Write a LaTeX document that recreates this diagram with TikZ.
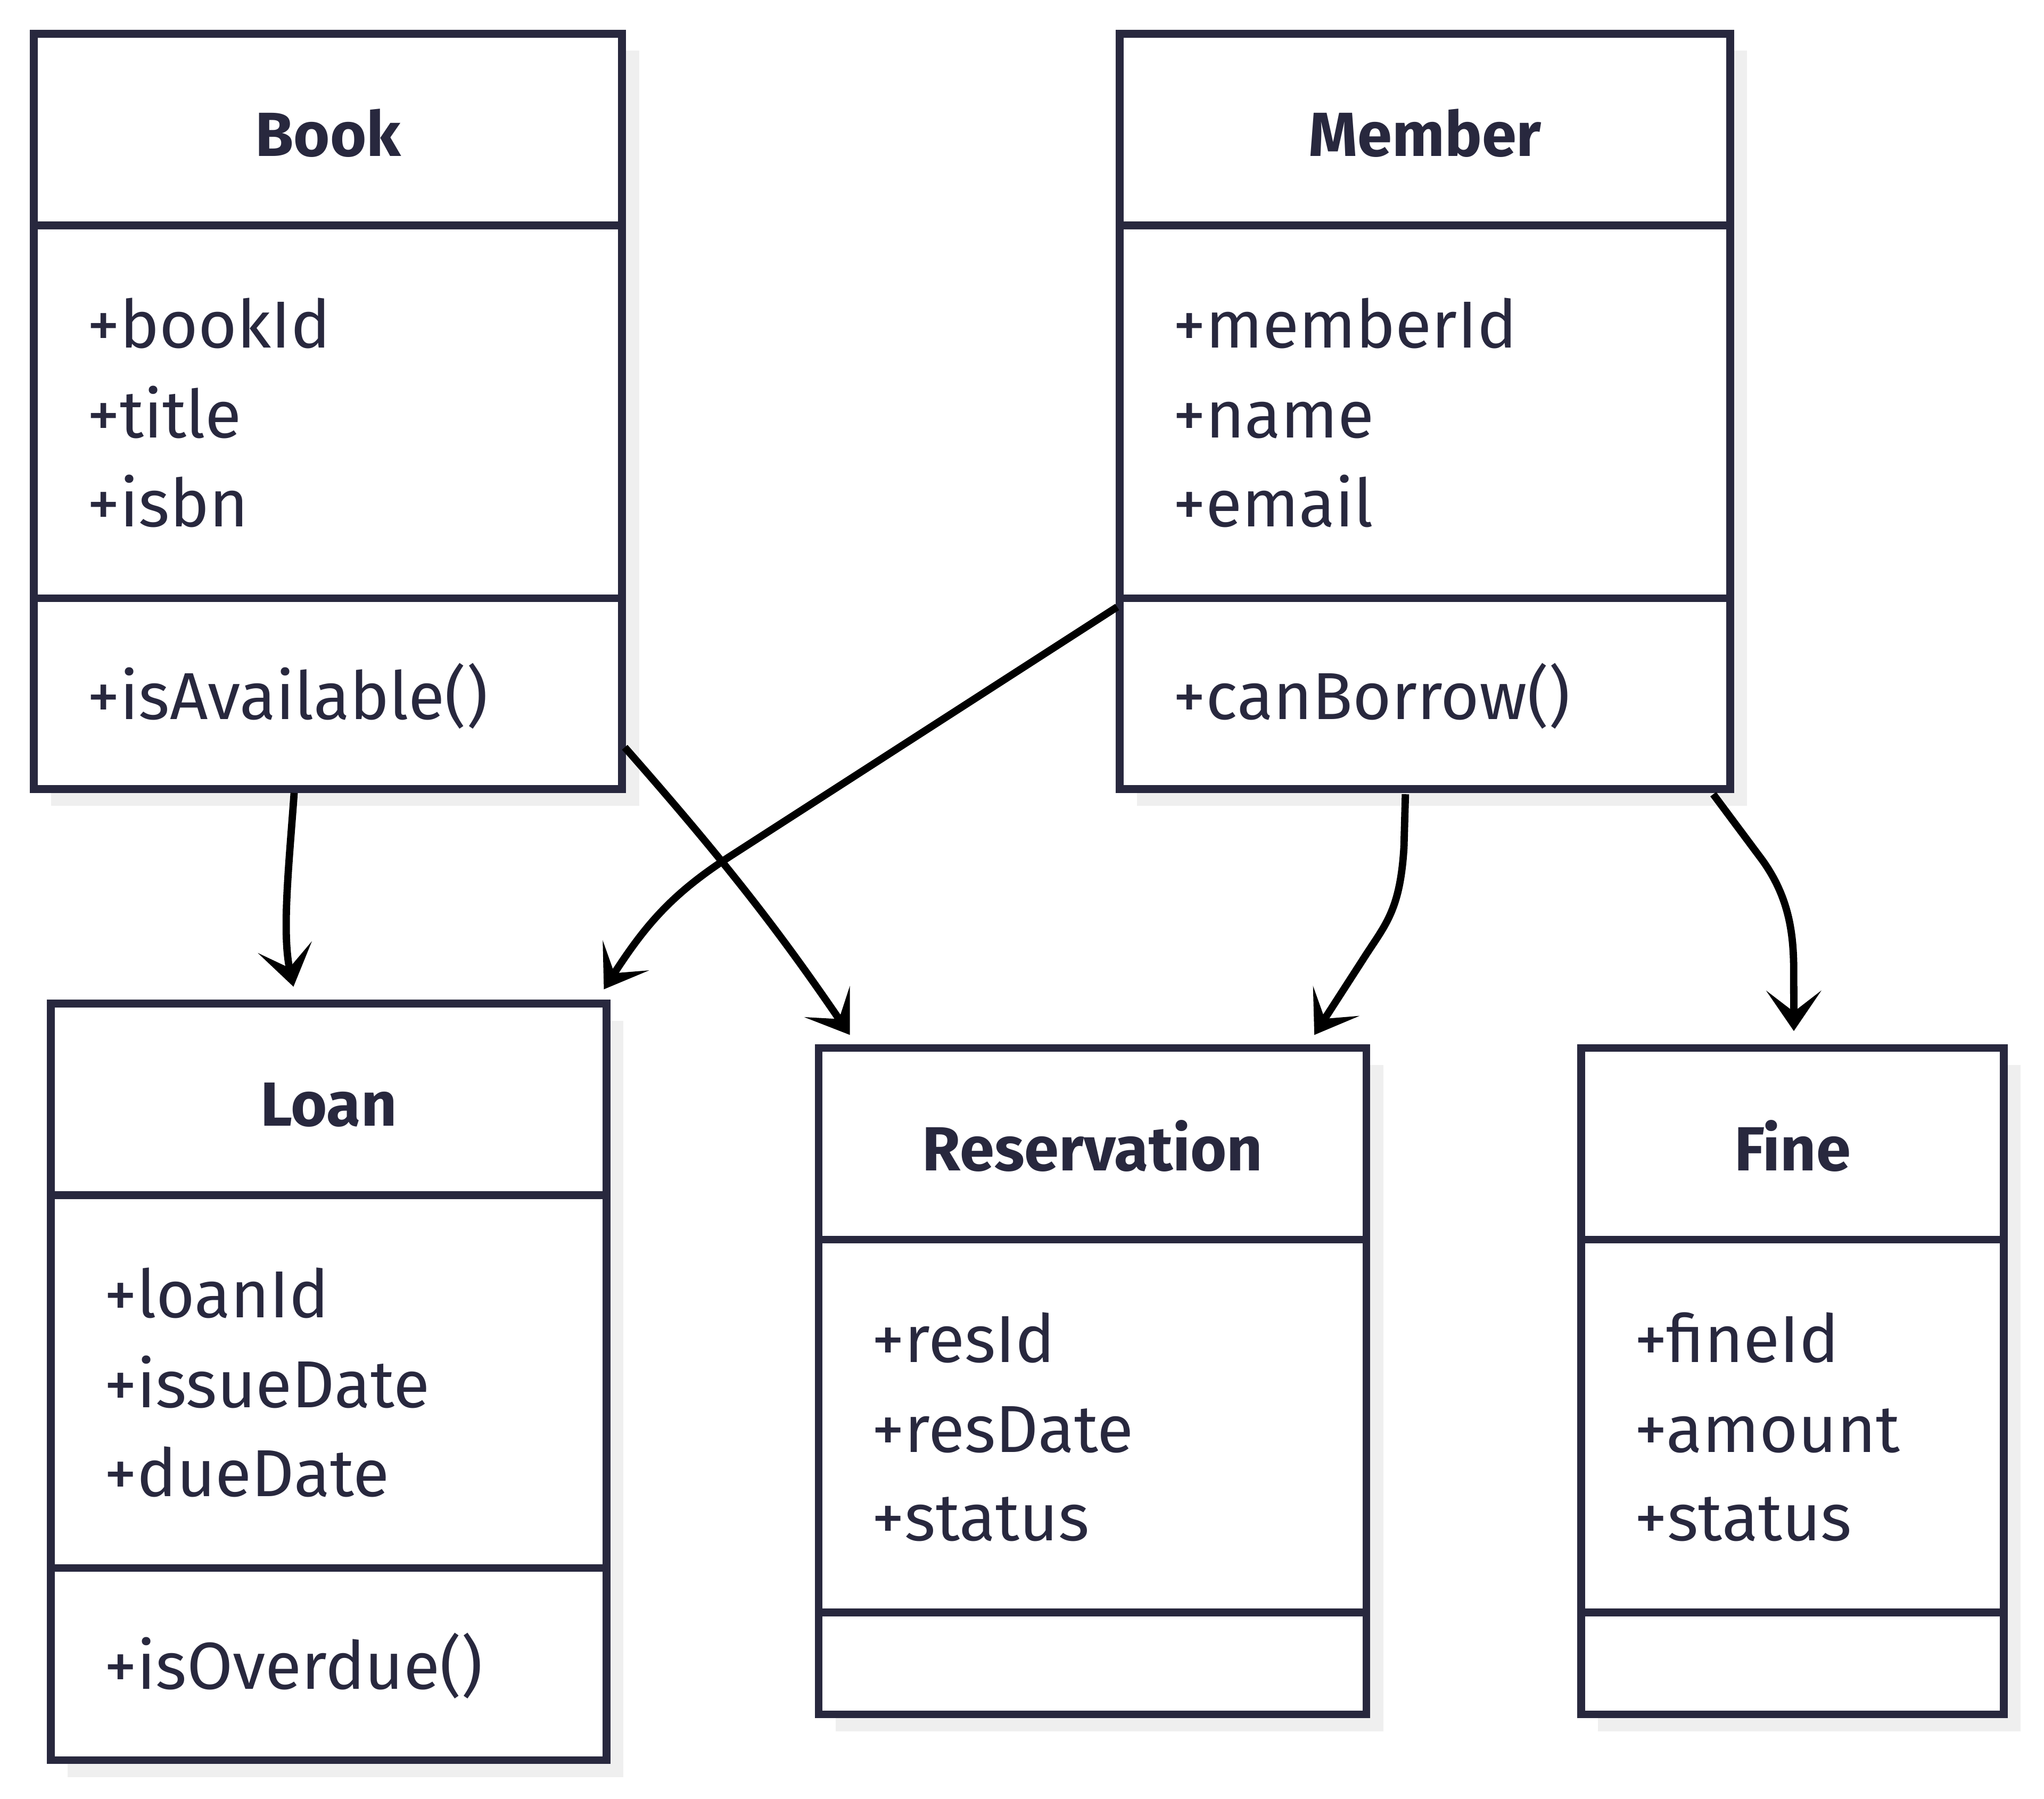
\documentclass[tikz,border=0pt]{standalone}
\usepackage{fontspec}
\setmainfont{Fira Sans}
\usepackage{tikz}
\usetikzlibrary{calc,arrows.meta,shadows}

\definecolor{umlink}{HTML}{28283E}
\definecolor{shadowgray}{HTML}{EFEFEF}

\begin{document}
\begin{tikzpicture}[x=0.01cm,y=-0.01cm,>=Stealth,inner sep=0pt,every node/.style={font=\fontsize{14.5}{19.6}\selectfont,text=umlink}]
  % Styles
  \tikzset{classbox/.style={draw=umlink,line width=1.7pt,fill=white,outer sep=0pt,anchor=north west,
             drop shadow={opacity=1,fill=shadowgray,shadow xshift=0.13cm,shadow yshift=-0.13cm}},
           divider/.style={draw=umlink,line width=1.7pt},
           classname/.style={anchor=base,font=\fontsize{13.6}{19.6}\selectfont\bfseries},
           members/.style={anchor=base west},
           link/.style={->,line width=1.6pt,black,>={Stealth[length=8.8pt,width=12pt,inset=4.6pt]}}}

  % Canvas (same proportions as the original)
  \useasboundingbox (0,0) rectangle (1568,1380);

  % Book
  \node[classbox,minimum width=4.51cm,minimum height=5.79cm] (book) at (26,26) {};
  \draw[divider] ($(book.north west)+(0,147)$) -- ($(book.north east)+(0,147)$);
  \draw[divider] ($(book.north west)+(0,433)$) -- ($(book.north east)+(0,433)$);
  \node[classname] (bookname) at ($(book.north)+(0,94)$) {Book};
  \node[members] (book-a1) at ($(book.north west)+(40,241)$) {+bookId};
  \node[members] (book-a2) at ($(book.north west)+(40,310)$) {+title};
  \node[members] (book-a3) at ($(book.north west)+(40,378)$) {+isbn};
  \node[members] (book-m1) at ($(book.north west)+(40,526)$) {+isAvailable()};

  % Member
  \node[classbox,minimum width=4.68cm,minimum height=5.79cm] (member) at (859,26) {};
  \draw[divider] ($(member.north west)+(0,147)$) -- ($(member.north east)+(0,147)$);
  \draw[divider] ($(member.north west)+(0,433)$) -- ($(member.north east)+(0,433)$);
  \node[classname] (membername) at ($(member.north)+(0,94)$) {Member};
  \node[members] (member-a1) at ($(member.north west)+(40,241)$) {+memberId};
  \node[members] (member-a2) at ($(member.north west)+(40,310)$) {+name};
  \node[members] (member-a3) at ($(member.north west)+(40,378)$) {+email};
  \node[members] (member-m1) at ($(member.north west)+(40,526)$) {+canBorrow()};

  % Loan
  \node[classbox,minimum width=4.26cm,minimum height=5.80cm] (loan) at (39,770) {};
  \draw[divider] ($(loan.north west)+(0,147)$) -- ($(loan.north east)+(0,147)$);
  \draw[divider] ($(loan.north west)+(0,433)$) -- ($(loan.north east)+(0,433)$);
  \node[classname] (loanname) at ($(loan.north)+(0,94)$) {Loan};
  \node[members] (loan-a1) at ($(loan.north west)+(40,241)$) {+loanId};
  \node[members] (loan-a2) at ($(loan.north west)+(40,310)$) {+issueDate};
  \node[members] (loan-a3) at ($(loan.north west)+(40,378)$) {+dueDate};
  \node[members] (loan-m1) at ($(loan.north west)+(40,526)$) {+isOverdue()};

  % Reservation (no operations)
  \node[classbox,minimum width=4.20cm,minimum height=5.11cm] (res) at (628,804) {};
  \draw[divider] ($(res.north west)+(0,147)$) -- ($(res.north east)+(0,147)$);
  \draw[divider] ($(res.north west)+(0,433)$) -- ($(res.north east)+(0,433)$);
  \node[classname] (resname) at ($(res.north)+(0,94)$) {Reservation};
  \node[members] (res-a1) at ($(res.north west)+(40,241)$) {+resId};
  \node[members] (res-a2) at ($(res.north west)+(40,310)$) {+resDate};
  \node[members] (res-a3) at ($(res.north west)+(40,378)$) {+status};

  % Fine (no operations)
  \node[classbox,minimum width=3.24cm,minimum height=5.11cm] (fine) at (1213,804) {};
  \draw[divider] ($(fine.north west)+(0,147)$) -- ($(fine.north east)+(0,147)$);
  \draw[divider] ($(fine.north west)+(0,433)$) -- ($(fine.north east)+(0,433)$);
  \node[classname] (finename) at ($(fine.north)+(0,94)$) {Fine};
  \node[members] (fine-a1) at ($(fine.north west)+(40,241)$) {+fineId};
  \node[members] (fine-a2) at ($(fine.north west)+(40,310)$) {+amount};
  \node[members] (fine-a3) at ($(fine.north west)+(40,378)$) {+status};

  % Associations (drawn last so they sit on top of the boxes)
  \draw[link] ($(book.south)+(-26,3)$) .. controls (222,660) and (216,715) .. ($(loan.north)+(-27,-13)$);
  \draw[link] ($(book.south east)+(2,-32)$) .. controls (560,665) and (600,718) .. ($(res.north west)+(24,-10)$);
  \draw[link] ($(member.west)+(-2,150)$) -- (560,657) .. controls (515,686) and (495,710) .. ($(loan.north east)+(-2,-11)$);
  \draw[link] ($(member.south)+(-15,4)$) -- (1077,650) .. controls (1074,700) and (1062,710) .. (1045,737) -- ($(res.north east)+(-40,-10)$);
  \draw[link] ($(member.south east)+(-13,4)$) -- (1352,660) .. controls (1372,688) and (1376,715) .. (1376,745) -- ($(fine.north)+(1,-13)$);
\end{tikzpicture}
\end{document}
